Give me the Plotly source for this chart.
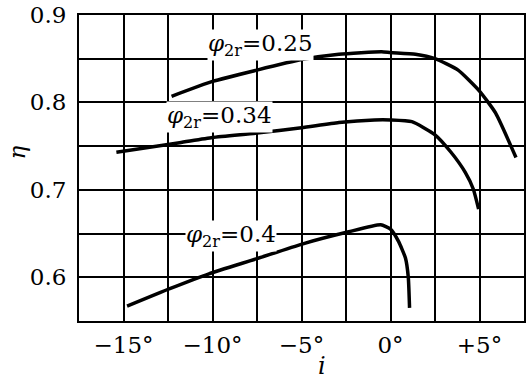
import plotly.graph_objects as go

# incidence angle i (deg) and efficiency eta for each phi_2r curve
i_025 = [-12.3, -10.0, -7.5, -5.0, -2.9, -0.5, 0.0, 1.4, 2.5, 3.8, 5.0, 5.9, 7.05]
eta_025 = [0.807, 0.824, 0.837, 0.849, 0.855, 0.858, 0.857, 0.855, 0.850, 0.837, 0.813, 0.788, 0.737]

i_034 = [-15.4, -11.85, -10.0, -7.5, -5.0, -2.9, -0.9, 0.0, 1.2, 2.5, 3.4, 4.2, 4.65, 4.95]
eta_034 = [0.743, 0.754, 0.760, 0.765, 0.771, 0.777, 0.780, 0.780, 0.778, 0.763, 0.743, 0.720, 0.701, 0.678]

i_040 = [-14.8, -12.4, -10.2, -7.55, -4.97, -2.35, -0.55, 0.0, 0.45, 0.84, 1.0, 1.07]
eta_040 = [0.567, 0.587, 0.604, 0.621, 0.638, 0.652, 0.660, 0.655, 0.641, 0.622, 0.600, 0.565]

labels = ["0.25", "0.34", "0.4"]

x_grid = [-17.5, -15, -12.5, -10, -7.5, -5, -2.5, 0, 2.5, 5, 7.5]
x_text = ["", "\u221215\u00b0", "", "\u221210\u00b0", "", "\u22125\u00b0", "", "0\u00b0", "", "+5\u00b0", ""]
y_grid = [0.55, 0.6, 0.65, 0.7, 0.75, 0.8, 0.85, 0.9]
y_text = ["", "0.6", "", "0.7", "", "0.8", "", "0.9"]

FONT = "DejaVu Serif"

fig = go.Figure()
for xs, ys in [(i_025, eta_025), (i_034, eta_034), (i_040, eta_040)]:
    fig.add_trace(go.Scatter(x=xs, y=ys, mode="lines",
                             line=dict(color="black", width=3.5, shape="spline", smoothing=0.5),
                             showlegend=False, hoverinfo="skip"))

label_pos = [(-7.3, 0.866), (-9.6, 0.7835), (-8.95, 0.647)]
for lab, (lx, ly) in zip(labels, label_pos):
    fig.add_annotation(x=lx, y=ly, xref="x", yref="y", showarrow=False,
                       xanchor="center", yanchor="middle",
                       text="<i>\u03c6</i><sub>2r</sub>=" + lab,
                       font=dict(family=FONT, size=23, color="black"),
                       bgcolor="white", borderpad=0)

fig.add_annotation(x=-0.172, y=0.552, xref="paper", yref="paper", showarrow=False,
                   xanchor="left", yanchor="middle",
                   text="<i>\u03b7</i>", textangle=-90, font=dict(family=FONT, size=23, color="black"))
fig.add_annotation(x=0.545, y=-0.2, xref="paper", yref="paper", showarrow=False,
                   xanchor="center", yanchor="bottom",
                   text="<i>i</i>", font=dict(family=FONT, size=24, color="black"))

fig.update_xaxes(range=[-17.5, 7.5], tickmode="array", tickvals=x_grid, ticktext=x_text,
                 showgrid=True, gridcolor="black", gridwidth=1.6, zeroline=False,
                 showline=True, linecolor="black", linewidth=2, mirror=True,
                 ticks="", ticklabelstandoff=2, ticklabeloverflow="allow",
                 tickfont=dict(family=FONT, size=23, color="black"))
fig.update_yaxes(range=[0.55, 0.9], tickmode="array", tickvals=y_grid, ticktext=y_text,
                 showgrid=True, gridcolor="black", gridwidth=1.6, zeroline=False,
                 showline=True, linecolor="black", linewidth=2, mirror=True,
                 ticks="", ticklabelstandoff=6, ticklabeloverflow="allow",
                 tickfont=dict(family=FONT, size=23, color="black"))

fig.update_layout(width=528, height=381, margin=dict(l=79, r=2, t=11, b=60),
                  plot_bgcolor="white", paper_bgcolor="white")

fig.write_html("out.html")
